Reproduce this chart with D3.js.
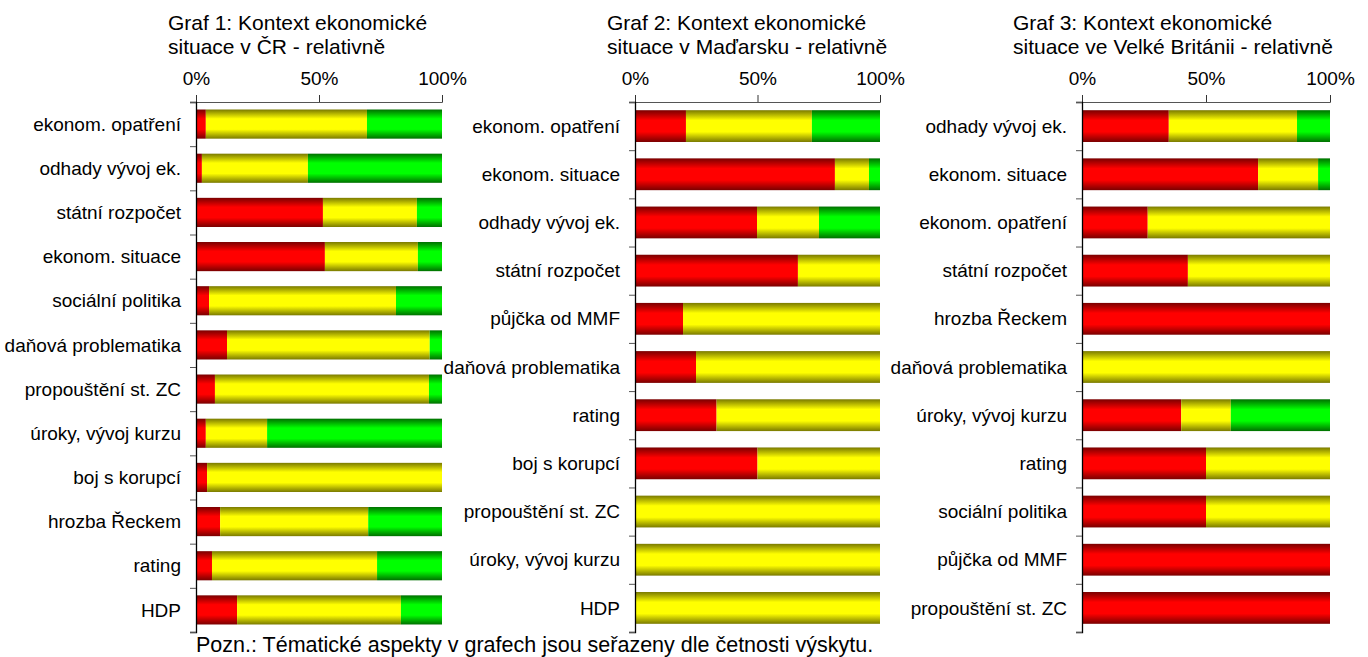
<!DOCTYPE html>
<html>
<head>
<meta charset="utf-8">
<script src="https://cdn.jsdelivr.net/npm/d3@7"></script>
<style>
  body { margin: 0; background: #fff; }
  svg { display: block; font-family: "Liberation Sans", Arial, sans-serif; }
</style>
</head>
<body>
<div id="chart"></div>
<script>
// series order: negative (red), neutral (yellow), positive (green), all in %
var keys = ["neg", "neu", "pos"];

var cats1 = ["ekonom. opatření", "odhady vývoj ek.", "státní rozpočet", "ekonom. situace",
  "sociální politika", "daňová problematika", "propouštění st. ZC", "úroky, vývoj kurzu",
  "boj s korupcí", "hrozba Řeckem", "rating", "HDP"];
var neg1 = [4, 2.4, 51.6, 52.4, 5.3, 12.6, 7.7, 4, 4.5, 9.8, 6.5, 16.7];
var neu1 = [65.5, 43.1, 38.2, 37.8, 76, 82.4, 87, 24.9, 95.5, 60.2, 67.1, 66.6];
var pos1 = [30.5, 54.5, 10.2, 9.8, 18.7, 5, 5.3, 71.1, 0, 30, 26.4, 16.7];

var cats2 = ["ekonom. opatření", "ekonom. situace", "odhady vývoj ek.", "státní rozpočet",
  "půjčka od MMF", "daňová problematika", "rating", "boj s korupcí",
  "propouštění st. ZC", "úroky, vývoj kurzu", "HDP"];
var neg2 = [20.8, 81.6, 49.8, 66.5, 19.6, 24.9, 33.3, 50, 0, 0, 0];
var neu2 = [51.4, 13.9, 25.3, 33.5, 80.4, 75.1, 66.7, 50, 100, 100, 100];
var pos2 = [27.8, 4.5, 24.9, 0, 0, 0, 0, 0, 0, 0, 0];

var cats3 = ["odhady vývoj ek.", "ekonom. situace", "ekonom. opatření", "státní rozpočet",
  "hrozba Řeckem", "daňová problematika", "úroky, vývoj kurzu", "rating",
  "sociální politika", "půjčka od MMF", "propouštění st. ZC"];
var neg3 = [35, 71, 26.5, 42.7, 100, 0, 40, 50, 50, 100, 100];
var neu3 = [51.7, 24.2, 73.5, 57.3, 0, 100, 20, 50, 50, 0, 0];
var pos3 = [13.3, 4.8, 0, 0, 0, 0, 40, 0, 0, 0, 0];

var titles = [
  ["Graf 1: Kontext ekonomické", "situace v ČR - relativně"],
  ["Graf 2: Kontext ekonomické", "situace v Maďarsku - relativně"],
  ["Graf 3: Kontext ekonomické", "situace ve Velké Británii - relativně"]
];
var xTicks = [0, 50, 100];
var note = "Pozn.: Tématické aspekty v grafech jsou seřazeny dle četnosti výskytu.";

var W = 1368, H = 657;
var plotTop = 102, plotBottom = 632;

// layout of the three panels
var panels = [
  {cats: cats1, neg: neg1, neu: neu1, pos: pos1, x0: 196, x1: 442, tx: 168},
  {cats: cats2, neg: neg2, neu: neu2, pos: pos2, x0: 635, x1: 880, tx: 607},
  {cats: cats3, neg: neg3, neu: neu3, pos: pos3, x0: 1082, x1: 1330, tx: 1013}
];

var svg = d3.select("#chart").append("svg")
  .attr("width", W)
  .attr("height", H);

// vertical gradients: dark at the edges, bright in the middle
var grads = {neg: ["#7a0000", "#ff0000"], neu: ["#7a7a00", "#ffff00"], pos: ["#007000", "#00ff00"]};
var defs = svg.append("defs");
keys.forEach(function(k) {
  var g = defs.append("linearGradient")
    .attr("id", "g-" + k)
    .attr("x1", 0).attr("y1", 0).attr("x2", 0).attr("y2", 1);
  g.append("stop").attr("offset", "0%").attr("stop-color", grads[k][0]);
  g.append("stop").attr("offset", "32%").attr("stop-color", grads[k][1]);
  g.append("stop").attr("offset", "68%").attr("stop-color", grads[k][1]);
  g.append("stop").attr("offset", "100%").attr("stop-color", grads[k][0]);
});

panels.forEach(function(p, pi) {
  var rows = p.cats.map(function(c, i) {
    return {cat: c, neg: p.neg[i], neu: p.neu[i], pos: p.pos[i]};
  });

  var x = d3.scaleLinear().domain([0, 100]).range([p.x0, p.x1]);
  var y = d3.scaleBand().domain(p.cats).range([plotTop, plotBottom])
    .paddingInner(0.34).paddingOuter(0.17);

  var stacked = d3.stack().keys(keys)(rows);

  var g = svg.append("g");

  g.selectAll("g.series")
    .data(stacked)
    .enter().append("g")
    .attr("class", "series")
    .attr("fill", function(d) { return "url(#g-" + d.key + ")"; })
    .selectAll("rect")
    .data(function(d) { return d; })
    .enter().append("rect")
    .attr("x", function(d) { return x(d[0]); })
    .attr("width", function(d) { return x(d[1]) - x(d[0]); })
    .attr("y", function(d) { return y(d.data.cat); })
    .attr("height", y.bandwidth());

  // top percentage axis
  var xa = g.append("g")
    .attr("transform", "translate(0," + plotTop + ")")
    .call(d3.axisTop(x).tickValues(xTicks).tickFormat(function(d) { return d + "%"; })
      .tickSize(7).tickPadding(10));
  xa.select(".domain").attr("stroke", "#555");
  xa.selectAll(".tick line").attr("stroke", "#333");
  xa.selectAll(".tick text").attr("font-size", 19).attr("fill", "#000")
    .attr("font-family", "Liberation Sans, Arial, sans-serif");

  // category axis: ticks between categories
  var yi = d3.scaleLinear().domain([0, p.cats.length]).range([plotTop, plotBottom]);
  var ya = g.append("g")
    .attr("transform", "translate(" + p.x0 + ",0)")
    .call(d3.axisLeft(yi).ticks(p.cats.length).tickFormat("").tickSize(6).tickSizeOuter(6));
  ya.select(".domain").attr("stroke", "#000").attr("stroke-width", 1.3);
  ya.selectAll(".tick line").attr("stroke", "#555");

  g.selectAll("text.cat")
    .data(p.cats)
    .enter().append("text")
    .attr("class", "cat")
    .attr("x", p.x0 - 15)
    .attr("y", function(d) { return y(d) + y.bandwidth() / 2; })
    .attr("dy", "0.35em")
    .attr("text-anchor", "end")
    .attr("font-size", 19)
    .text(function(d) { return d; });

  var t = g.append("text")
    .attr("x", p.tx)
    .attr("y", 30)
    .attr("font-size", 21);
  titles[pi].forEach(function(line, li) {
    t.append("tspan").attr("x", p.tx).attr("dy", li ? 24 : 0).text(line);
  });
});

svg.append("text")
  .attr("x", 196)
  .attr("y", 652)
  .attr("font-size", 21.5)
  .text(note);
</script>
</body>
</html>
